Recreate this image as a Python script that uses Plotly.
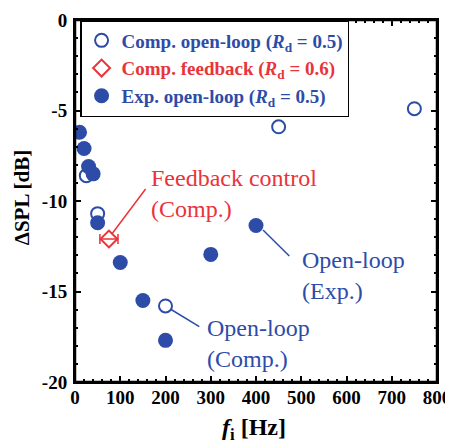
import plotly.graph_objects as go

# Data
comp_open_f = [25, 50, 200, 450, 750]
comp_open_spl = [-8.6, -10.7, -15.8, -5.9, -4.9]

comp_fb_f = [75]
comp_fb_spl = [-12.1]
comp_fb_err = [20]

exp_open_f = [10, 20, 30, 40, 50, 100, 150, 200, 300, 400]
exp_open_spl = [-6.2, -7.1, -8.1, -8.5, -11.2, -13.4, -15.5, -17.7, -12.95, -11.35]

x_ticks = [0, 100, 200, 300, 400, 500, 600, 700, 800]
x_ticktext = ["0", "100", "200", "300", "400", "500", "600", "700", "800"]
y_ticks = [0, -5, -10, -15, -20]
y_ticktext = ["0", "-5", "-10", "-15", "-20"]

BLUE = "#2d4ca8"
RED = "#e8343a"
FONT = "Liberation Serif"

fig = go.Figure()
fig.add_trace(go.Scatter(
    x=comp_open_f, y=comp_open_spl, mode="markers",
    marker=dict(symbol="circle-open", size=13, color=BLUE, line=dict(width=2, color=BLUE)),
    name=f"<b><span style='color:{BLUE}'>Comp. open-loop (<i>R</i><sub>d</sub> = 0.5)</span></b>",
))
fig.add_trace(go.Scatter(
    x=comp_fb_f, y=comp_fb_spl, mode="markers",
    marker=dict(symbol="diamond-open", size=13, color=RED, line=dict(width=2, color=RED)),
    error_x=dict(type="data", array=comp_fb_err, color=RED, thickness=1.5, width=5),
    name=f"<b><span style='color:{RED}'>Comp. feedback (<i>R</i><sub>d</sub> = 0.6)</span></b>",
))
fig.add_trace(go.Scatter(
    x=exp_open_f, y=exp_open_spl, mode="markers",
    marker=dict(symbol="circle", size=15, color=BLUE),
    name=f"<b><span style='color:{BLUE}'>Exp. open-loop (<i>R</i><sub>d</sub> = 0.5)</span></b>",
))

# Leader lines
lines = [
    (156, -9.34, 81, -11.84, RED),
    (415.5, -11.6, 473.6, -13.04, BLUE),
    (211.5, -15.98, 274.7, -16.94, BLUE),
]
for x0, y0, x1, y1, c in lines:
    fig.add_shape(type="line", x0=x0, y0=y0, x1=x1, y1=y1, xref="x", yref="y",
                  line=dict(color=c, width=1.5))

annots = [
    (163, -9.6, "Feedback control<br>(Comp.)", RED),
    (497, -14.1, "Open-loop<br>(Exp.)", BLUE),
    (287, -17.9, "Open-loop<br>(Comp.)", BLUE),
]
for x, y, t, c in annots:
    fig.add_annotation(x=x, y=y, text=t, showarrow=False, xanchor="left", yanchor="middle",
                       align="left", font=dict(family=FONT, size=24, color=c))

# Axis titles
fig.add_annotation(x=0.495, y=-0.13, xref="paper", yref="paper", showarrow=False,
                   xanchor="center", yanchor="middle",
                   text="<b><i>f</i><sub>i</sub> [Hz]</b>",
                   font=dict(family=FONT, size=24, color="black"))
fig.add_annotation(x=-0.146, y=0.508, xref="paper", yref="paper", showarrow=False,
                   xanchor="center", yanchor="middle", textangle=-90,
                   text="<b>ΔSPL [dB]</b>",
                   font=dict(family=FONT, size=21, color="black"))

# Frame
fig.add_shape(type="rect", xref="paper", yref="paper", x0=0, y0=0, x1=1, y1=1,
              line=dict(color="black", width=2.5), layer="above")

axis_common = dict(
    showline=True, linecolor="black", linewidth=2, mirror="allticks",
    ticks="inside", ticklen=6, tickwidth=2, tickcolor="black",
    showgrid=False, zeroline=False, automargin=False,
    tickfont=dict(family=FONT, size=19, color="black"),
)
fig.update_xaxes(
    range=[0, 800], tickvals=x_ticks, ticktext=[f"<b>{t}</b>" for t in x_ticktext],
    minor=dict(dtick=20, ticks="inside", ticklen=3, tickwidth=1.5, tickcolor="black"),
    ticklabelstandoff=-3,
    **axis_common,
)
fig.update_yaxes(
    range=[-20, 0], tickvals=y_ticks, ticktext=[f"<b>{t}</b>" for t in y_ticktext],
    minor=dict(dtick=1, ticks="inside", ticklen=3, tickwidth=1.5, tickcolor="black"),
    ticklabelstandoff=2,
    **axis_common,
)

fig.update_layout(
    width=445, height=440,
    margin=dict(l=67, r=16, t=12, b=66, autoexpand=False),
    font=dict(family=FONT, color="black"),
    plot_bgcolor="white", paper_bgcolor="white",
    showlegend=True,
    legend=dict(x=0.014, y=1, xanchor="left", yanchor="top",
                bgcolor="white", bordercolor="black", borderwidth=1.5,
                font=dict(family=FONT, size=19, color="black"),
                tracegroupgap=0, itemwidth=30),
)

fig.write_html("out.html")
